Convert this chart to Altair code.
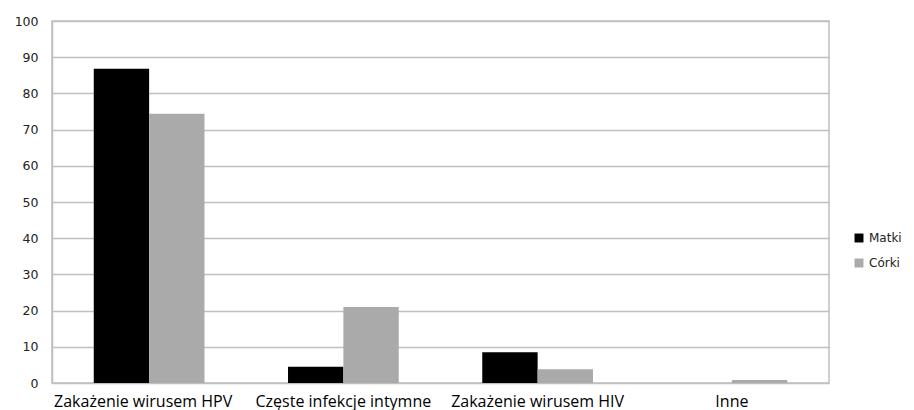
import altair as alt
import pandas as pd

categories = ["Zakażenie wirusem HPV", "Częste infekcje intymne", "Zakażenie wirusem HIV", "Inne"]
series = ["Matki", "Córki"]
matki = [86.8, 4.5, 8.5, 0.0]
corki = [74.4, 21.0, 3.8, 0.8]

rows = []
for c, m, k in zip(categories, matki, corki):
    rows.append({"kat": c, "grupa": "Matki", "v": m})
    rows.append({"kat": c, "grupa": "Córki", "v": k})
df = pd.DataFrame(rows)

chart = alt.Chart(df).mark_bar(strokeWidth=0).encode(
    x=alt.X("kat:N", sort=categories, title=None,
            scale=alt.Scale(paddingInner=0.43, paddingOuter=0.215),
            axis=alt.Axis(labelAngle=0, labelFont="Open Sans", labelFontSize=16,
                          labelColor="#000000", ticks=False, domain=False, labelPadding=10,
                          labelOffset={"condition": {"test": "datum.value == 'Zakażenie wirusem HPV'",
                                                     "value": -6}, "value": 0})),
    xOffset=alt.XOffset("grupa:N", sort=series),
    y=alt.Y("v:Q", title=None, scale=alt.Scale(domain=[0, 100], nice=False),
            axis=alt.Axis(values=list(range(0, 101, 10)), labelFont="DejaVu Sans", labelFontSize=12.5,
                          labelColor="#222222", ticks=False, domainColor="#bfbfbf", domainWidth=1.5,
                          gridColor="#c0c0c0", gridWidth=1.5, labelPadding=14)),
    color=alt.Color("grupa:N", sort=series, title=None,
                    scale=alt.Scale(domain=series, range=["#000000", "#aaaaaa"]),
                    legend=alt.Legend(orient="none", legendX=801, legendY=211, symbolType="square",
                                      symbolSize=80, symbolStrokeWidth=0, labelFont="DejaVu Sans",
                                      labelFontSize=12, labelColor="#222222", rowPadding=13,
                                      labelOffset=4)),
).properties(
    width=777, height=362,
    autosize=alt.AutoSizeParams(type="none"),
    padding={"left": 44, "top": 13, "right": 77, "bottom": 36},
).configure_view(stroke="#bfbfbf", strokeWidth=1.5)

chart.save("out.html", embed_options={"renderer": "svg", "actions": False})
